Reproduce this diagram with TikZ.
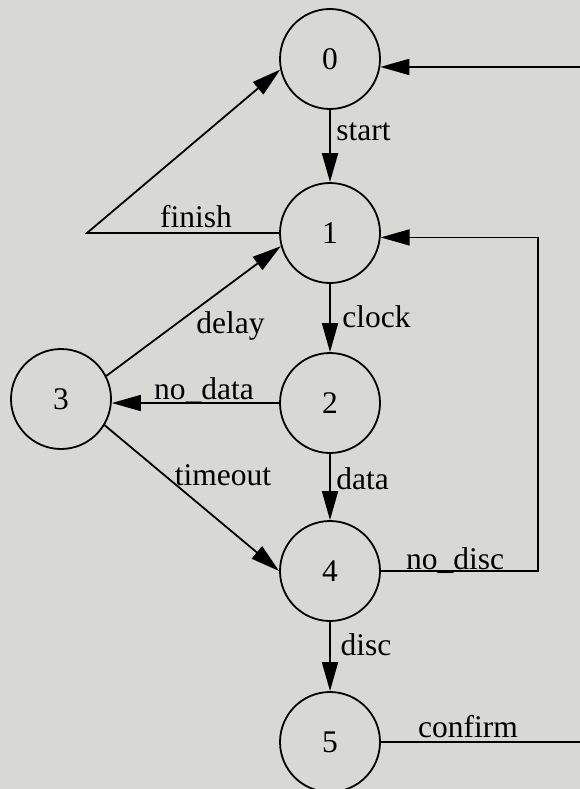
\documentclass[tikz,border=0pt]{standalone}
\usepackage{fontspec}
\setmainfont{Liberation Serif}
\usetikzlibrary{arrows.meta}
\definecolor{paper}{RGB}{216,216,213}
\begin{document}
\begin{tikzpicture}[x=1pt,y=-1pt,
  state/.style={circle,draw,line width=1.8pt,minimum size=100pt,inner sep=0pt,
                font=\fontsize{31.5}{36}\selectfont},
  lbl/.style={inner sep=0pt,font=\fontsize{31.5}{36}\selectfont},
  wire/.style={line width=1.8pt},
  arr/.style={wire,-{Triangle[length=29pt,width=16pt]}}]
\useasboundingbox (0,0) rectangle (580,789);
\fill[paper] (0,0) rectangle (580,789);

% states
\node[state] (n0) at (330,59)  {0};
\node[state] (n1) at (330,233) {1};
\node[state] (n2) at (330,403) {2};
\node[state] (n3) at (61,399)  {3};
\node[state] (n4) at (330,571) {4};
\node[state] (n5) at (330,742) {5};

% helper points for the routed connectors
\coordinate (fcorner) at (87,233);
\coordinate (ndx) at (538,0);
\coordinate (rim) at (580,0);

% transitions
\draw[arr] (n0) -- (n1);
\draw[arr] (n1.west) -- (fcorner) -- (n0.192);
\draw[arr] (n1) -- (n2);
\draw[arr] (n2.west) -- (n2.west -| n3.east);
\draw[arr] (n3.27) -- (n1.195);
\draw[arr] (n3.329) -- (n4.west);
\draw[arr] (n2) -- (n4);
\draw[arr] (n4) -- (n5);
\draw[arr] (n4.east) -- (n4.east -| ndx) |- (n1.355);
\draw[wire] (n5.east) -- (n5.east -| rim);
\draw[arr] (n0.351 -| rim) -- (n0.351);

% transition labels
\node[lbl] (lstart)   at (363.5,132) {start};
\node[lbl] (lfinish)  at (196,217)   {finish};
\node[lbl] (ldelay)   at (230.5,326) {delay};
\node[lbl] (lclock)   at (376.5,317) {clock};
\node[lbl] (lnodata)  at (204,391)   {no\_data};
\node[lbl] (ltimeout) at (223,475)   {timeout};
\node[lbl] (ldata)    at (362.5,479) {data};
\node[lbl] (lnodisc)  at (455,561)   {no\_disc};
\node[lbl] (ldisc)    at (366,645)   {disc};
\node[lbl] (lconfirm) at (468,727)   {confirm};
\end{tikzpicture}
\end{document}
